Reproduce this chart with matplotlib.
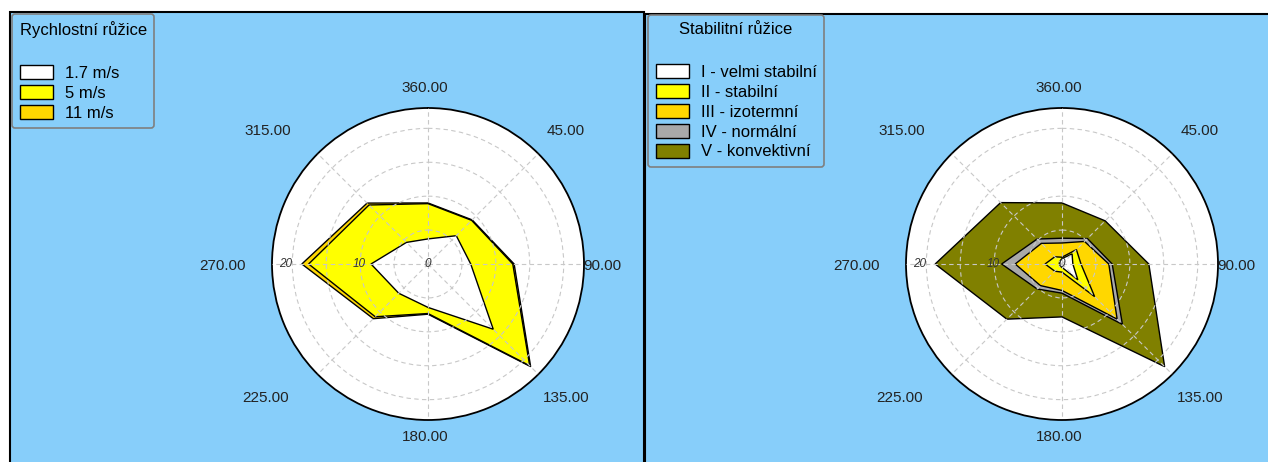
import numpy as np
import matplotlib
matplotlib.use('Agg')
import matplotlib.pyplot as plt
from matplotlib.patches import Rectangle, Patch

plt.rcParams['font.family'] = ['Liberation Sans', 'DejaVu Sans']

# smery (stupne)
directions = [0, 45, 90, 135, 180, 225, 270, 315]
dir_labels = ['360.00', '45.00', '90.00', '135.00', '180.00', '225.00', '270.00', '315.00']

# rychlostni ruzice
speed_names = ['1.7 m/s', '5 m/s', '11 m/s']
speed_colors = ['#ffffff', '#ffff00', '#ffd700']
speed_1_7 = [3.7, 5.9, 6.3, 13.6, 6.4, 6.1, 8.4, 4.5]
speed_5 = [8.9, 9.1, 12.5, 21.2, 7.3, 11.0, 17.6, 12.3]
speed_11 = [9.0, 9.2, 12.7, 21.4, 7.4, 11.4, 18.6, 12.7]

# stabilitni ruzice
stab_names = ['I - velmi stabilní', 'II - stabilní', 'III - izotermní',
              'IV - normální', 'V - konvektivní']
stab_colors = ['#ffffff', '#ffff00', '#ffd700', '#a9a9a9', '#808000']
stab_I = [0.8, 2.1, 1.6, 3.3, 0.5, 0.4, 0.4, 0.5]
stab_II = [1.0, 3.0, 2.8, 6.8, 1.2, 1.5, 2.5, 1.5]
stab_III = [3.1, 4.7, 6.9, 11.5, 3.9, 4.5, 6.9, 4.3]
stab_IV = [3.8, 5.3, 7.4, 12.6, 4.3, 5.2, 8.9, 5.2]
stab_V = [9.0, 9.0, 12.8, 21.4, 7.8, 11.5, 18.7, 12.8]

rmax = 23
bg = '#87cefa'

W, H = 1268, 462
fig = plt.figure(figsize=(W / 100, H / 100), dpi=100)
fig.patch.set_facecolor('white')

# panely
fig.patches.append(Rectangle((10 / W, -0.05), 634 / W, 1.05 - 12 / H, transform=fig.transFigure,
                             facecolor=bg, edgecolor='black', lw=1.5, zorder=-10))
fig.patches.append(Rectangle((645 / W, -0.05), 640 / W, 1.05 - 14 / H, transform=fig.transFigure,
                             facecolor=bg, edgecolor='black', lw=1.5, zorder=-10))

# posun popisku od kruznice (px)
lab_offsets = [(-3, 20), (27, 23), (18, -2), (28, -24), (-3, -17), (-52, -24), (-50, -2), (-50, 23)]


def rose(cx, series, colors):
    rad = 156
    ax = fig.add_axes([(cx - rad) / W, (H - 264 - rad) / H, 2 * rad / W, 2 * rad / H],
                      projection='polar')
    ax.set_theta_zero_location('N')
    ax.set_theta_direction(-1)
    ax.set_facecolor('white')
    ax.set_ylim(0, rmax)
    th = np.deg2rad(directions + [directions[0]])
    # nejvetsi nejdriv
    for vals, col in list(zip(series, colors))[::-1]:
        ax.fill(th, list(vals) + [vals[0]], facecolor=col, edgecolor='black', lw=1.0, zorder=2)
    ax.set_xticks(np.deg2rad(directions))
    ax.set_xticklabels([])
    ax.set_yticks([5, 10, 15, 20])
    ax.set_yticklabels([])
    ax.tick_params(axis='y', length=0)
    ax.tick_params(axis='x', direction='out', length=5, width=1, color='black')
    ax.grid(True, ls=(0, (4, 3)), color='#c8c8c8', lw=0.8, zorder=3)
    ax.set_axisbelow(False)
    for sp in ax.spines.values():
        sp.set_color('black')
        sp.set_linewidth(1.3)

    for d, lab, off in zip(directions, dir_labels, lab_offsets):
        ax.annotate(lab, xy=(np.deg2rad(d), rmax), xytext=off, textcoords='offset pixels',
                    ha='center', va='center', fontsize=11, color='#222222',
                    annotation_clip=False)
    for rv, lab in [(0, '0'), (10.2, '10'), (21, '20')]:
        ax.text(np.deg2rad(270), rv, lab, ha='center', va='center', fontsize=8.5,
                style='italic', color='#333333', zorder=6)
    return ax


rose(428, [speed_1_7, speed_5, speed_11], speed_colors)
rose(1062, [stab_I, stab_II, stab_III, stab_IV, stab_V], stab_colors)

leg_kw = dict(loc='upper left', borderaxespad=0, fontsize=12, title_fontsize=12,
              handlelength=2.0, handleheight=0.9, labelspacing=0.25, handletextpad=0.72,
              borderpad=0.45, fancybox=True, facecolor=bg, edgecolor='#7f7f7f',
              framealpha=1)

h1 = [Patch(facecolor=c, edgecolor='black', lw=1) for c in speed_colors]
leg1 = fig.legend(h1, speed_names, title='Rychlostní růžice\n',
                  bbox_to_anchor=(12 / W, 1 - 14 / H), alignment='left', **leg_kw)
leg1.get_frame().set_linewidth(1.2)
leg1.get_title().set_linespacing(1.65)

h2 = [Patch(facecolor=c, edgecolor='black', lw=1) for c in stab_colors]
leg2 = fig.legend(h2, stab_names, title='Stabilitní růžice\n',
                  bbox_to_anchor=(648 / W, 1 - 15 / H), **leg_kw)
leg2.get_frame().set_linewidth(1.2)
leg2.get_title().set_linespacing(1.65)

fig.savefig('out.png', dpi=100, facecolor=fig.get_facecolor())
